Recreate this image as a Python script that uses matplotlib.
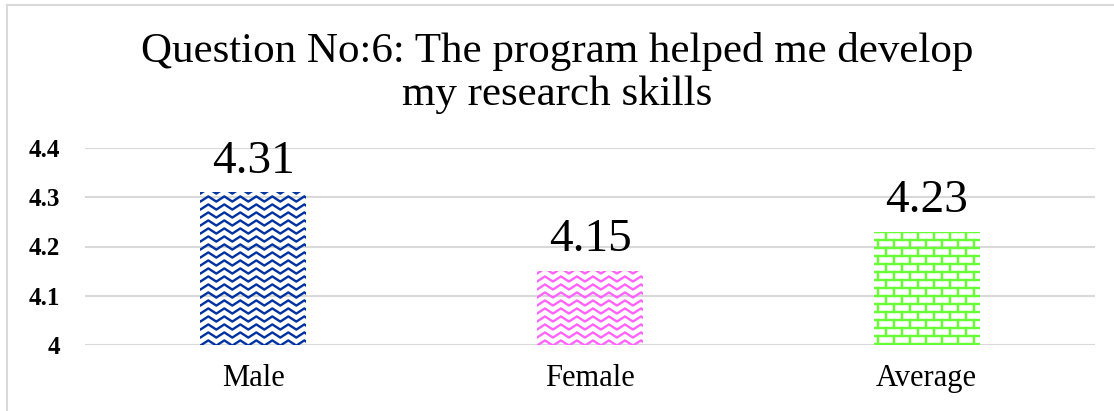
import numpy as np
import matplotlib.pyplot as plt
from matplotlib.transforms import Bbox
from matplotlib.lines import Line2D

categories = ["Male", "Female", "Average"]
scores = [4.31, 4.15, 4.23]
score_labels = ["4.31", "4.15", "4.23"]
yticks = [4.0, 4.1, 4.2, 4.3, 4.4]
ytick_labels = ["4", "4.1", "4.2", "4.3", "4.4"]
colors = ["#0033a0", "#ff66ff", "#66ff33"]
patterns = ["wave", "wave", "brick"]

plt.rcParams["font.family"] = ["Liberation Serif", "DejaVu Serif"]

fig = plt.figure(figsize=(11.14, 4.11), dpi=100)
ax = fig.add_axes([85 / 1114, 1 - 345 / 411, 1010 / 1114, 197 / 411])

x = np.arange(len(categories))
bars = ax.bar(x, scores, width=0.315, color="none", edgecolor="none")
ax.set_xlim(-0.5, 2.5)
ax.set_ylim(4.0, 4.4)
ax.set_yticks(yticks)
ax.set_yticklabels(ytick_labels, fontsize=18, fontweight="bold")
ax.set_xticks(x)
ax.set_xticklabels(categories, fontsize=22)
ax.tick_params(axis="both", length=0)
ax.tick_params(axis="y", pad=18)
ax.tick_params(axis="x", pad=14)
ax.grid(axis="y", color="#d9d9d9", linewidth=1.5)
ax.set_axisbelow(True)
for s in ax.spines.values():
    s.set_visible(False)

fig.canvas.draw()


def add_line(xs, ys, color, box):
    ln = Line2D(xs, ys, color=color, linewidth=1.7)
    ln.set_transform(fig.dpi_scale_trans.inverted() + fig.dpi_scale_trans)
    ln.set_clip_box(box)
    fig.add_artist(ln)


def draw_pattern(bar, color, kind):
    # pixel extent of the bar, then fill it with the pattern
    (x0, y0), (x1, y1) = ax.transData.transform(
        [(bar.get_x(), 4.0), (bar.get_x() + bar.get_width(), bar.get_height())])
    box = Bbox.from_extents(x0, y0, x1, y1)
    if kind == "wave":
        period, amp, gap = 16.0, 2.6, 8.0
        xs = np.arange(x0 - period, x1 + period, period / 4)
        phase = ((xs - x0) / period) % 1.0
        tri = np.where(phase < 0.5, -1 + 4 * phase, 3 - 4 * phase)
        y = y0 + 2
        while y < y1 + gap:
            add_line(xs, y + amp * np.clip(tri * 1.4, -1, 1), color, box)
            y += gap
    else:
        row, brick = 8.0, 16.0
        y = y0 + 1
        i = 0
        while y < y1 + row:
            add_line([x0, x1], [y, y], color, box)
            xx = x0 + 4 + (brick / 2) * (i % 2)
            while xx < x1:
                add_line([xx, xx], [y, y + row], color, box)
                xx += brick
            y += row
            i += 1


for bar, c, p, lab in zip(bars, colors, patterns, score_labels):
    draw_pattern(bar, c, p)
    ax.annotate(lab, (bar.get_x() + bar.get_width() / 2, bar.get_height()),
                xytext=(0, 7), textcoords="offset points",
                ha="center", va="bottom", fontsize=34)

fig.text(0.5, 1 - 73 / 411, "Question No:6: The program helped me develop\nmy research skills",
         ha="center", va="center", fontsize=31, linespacing=1.17)

# chart border (only left and top visible)
fig.add_artist(Line2D([7 / 1114, 7 / 1114], [0, 1 - 5 / 411], color="#d9d9d9", linewidth=1.5))
fig.add_artist(Line2D([7 / 1114, 1], [1 - 5 / 411, 1 - 5 / 411], color="#d9d9d9", linewidth=1.5))

fig.savefig("out.png", dpi=100)
